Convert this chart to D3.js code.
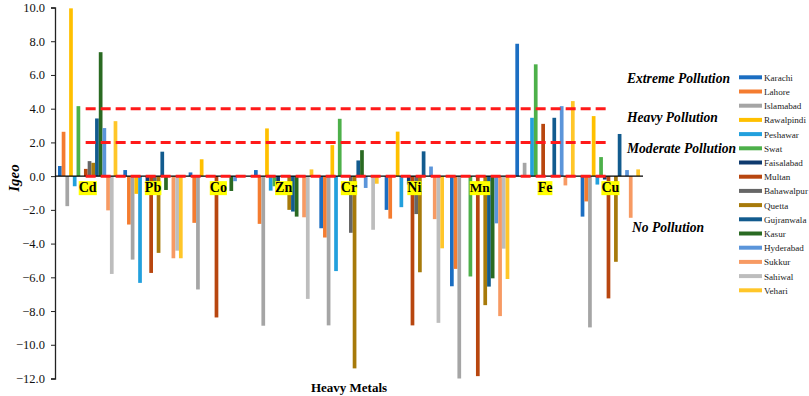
<!DOCTYPE html>
<html><head><meta charset="utf-8">
<script src="https://cdn.jsdelivr.net/npm/d3@7"></script>
<style>html,body{margin:0;padding:0;background:#fff;}svg{display:block;}
svg text{font-family:"Liberation Serif","Times New Roman","Liberation Sans",Arial,sans-serif;}</style>
</head><body>
<svg id="chart" width="809" height="396"></svg>
<script>
const metals = ["Cd","Pb","Co","Zn","Cr","Ni","Mn","Fe","Cu"];
const cities = ["Karachi","Lahore","Islamabad","Rawalpindi","Peshawar","Swat","Faisalabad","Multan","Bahawalpur","Quetta","Gujranwala","Kasur","Hyderabad","Sukkur","Sahiwal","Vehari"];
const colors = ["#1b6ec2","#f47c30","#a5a5a5","#ffc000","#22a0dd","#4db04a","#0e3a6e","#b8460f","#666666","#a77a0a","#125b8e","#2a6a22","#5b95da","#f79a63","#bdbdbd","#ffc629"];
// Igeo values per metal, in city order
const cd = [0.6, 2.63, -1.78, 9.95, -0.6, 4.15, 0, 0.43, 0.89, 0.79, 3.42, 7.35, 2.85, -2.03, -5.8, 3.26];
const pb = [0.36, -2.87, -4.95, -1.05, -6.33, 0, -0.4, -5.74, -0.4, -4.55, 1.45, -0.82, 0, -4.87, -4.42, -4.87];
const co = [0.22, -2.77, -6.72, 1.0, 0, 0, 0, -8.38, 0, 0, 0, -0.88, -0.3, 0, 0, 0];
const zn = [0.36, -2.83, -8.87, 2.83, -0.86, -0.6, -0.4, 0, 0, -2.0, -2.1, -2.4, 0, -2.44, -7.28, 0.4];
const cr = [-3.09, -3.64, -8.85, 1.84, -5.63, 3.4, 0, 0, -3.36, -11.4, 0.93, 1.54, -0.7, 0, -3.18, -0.45];
const ni = [-2.0, -2.52, 0, 2.64, -1.84, 0, -0.5, -8.85, -2.25, -5.7, 1.47, 0, 0.57, -2.55, -8.7, -4.28];
const mn = [-6.53, -5.5, -12.0, 0, 0, -5.95, 0, -11.86, 0, -7.65, -6.55, -6.06, -2.8, -8.3, -4.3, -6.1];
const fe = [7.85, 0, 0.79, 0, 3.46, 6.63, 0, 3.1, 0, 0, 3.46, 0, 4.15, -0.55, 0, 4.45];
const cu = [-2.4, -1.5, -8.97, 3.56, -0.5, 1.13, -0.2, -7.25, 0, -5.08, 2.5, 0, 0.36, -2.47, 0, 0.4];
const yTicks = [-12,-10,-8,-6,-4,-2,0,2,4,6,8,10];
const thresholds = [0, 2, 4];
const zoneLabels = [
  {text:"Extreme Pollution", v:5.5},
  {text:"Heavy Pollution", v:3.2},
  {text:"Moderate Pollution", v:1.4},
  {text:"No Pollution", v:-3.3}
];

(function(){
const metalValues = [cd,pb,co,zn,cr,ni,mn,fe,cu];
const table = [];
metals.forEach((m,i)=>cities.forEach((c,j)=>table.push({metal:m, city:c, value:metalValues[i][j], ci:j})));

const svg = d3.select("#chart");
const mLeft = 55, mRight = 643, mTop = 7.5, mBottom = 378.5;

const x0 = d3.scaleBand().domain(metals).range([mLeft, mRight]).padding(0);
const x1 = d3.scaleBand().domain(cities).range([3, x0.bandwidth()-3]).padding(0);
const y = d3.scaleLinear().domain([-12, 10]).range([mBottom, mTop]);
const color = d3.scaleOrdinal().domain(cities).range(colors);

function fit(sel, maxW){
  sel.each(function(){
    const n = this; let fs = parseFloat(d3.select(n).attr("font-size"));
    let w = n.getComputedTextLength();
    if (w > maxW) { d3.select(n).attr("font-size", (fs * maxW / w).toFixed(2)); }
  });
}

// bars
svg.append("g").selectAll("rect").data(table).join("rect")
  .attr("x", d => x0(d.metal) + x1(d.city))
  .attr("width", x1.bandwidth())
  .attr("y", d => y(Math.max(0, d.value)))
  .attr("height", d => Math.abs(y(d.value) - y(0)))
  .attr("fill", d => color(d.city));

// y axis
const yAxis = svg.append("g").attr("transform", `translate(${mLeft},0)`)
  .call(d3.axisLeft(y).tickValues(yTicks).tickFormat(d3.format(".1f")).tickSize(4).tickPadding(6));
yAxis.attr("font-family", null);
yAxis.select(".domain").attr("stroke", "#222").attr("stroke-width", 1.3);
yAxis.selectAll(".tick line").attr("stroke", "#222");
yAxis.selectAll("text").attr("font-size", 12.5).attr("fill", "#111");
fit(yAxis.selectAll("text").filter(d => d === 10), 23);

// zero axis line
svg.append("line").attr("x1", mLeft).attr("x2", mRight).attr("y1", y(0)).attr("y2", y(0))
  .attr("stroke", "#000").attr("stroke-width", 1.3);

// threshold dashed lines
const xFirst = x0(metals[0]) + x0.bandwidth()/2, xLast = x0(metals[metals.length-1]) + x0.bandwidth()/2;
svg.append("g").selectAll("line").data(thresholds).join("line")
  .attr("x1", xFirst - 2).attr("x2", xLast)
  .attr("y1", d => y(d)).attr("y2", d => y(d))
  .attr("stroke", "#ff1a1a").attr("stroke-width", 3).attr("stroke-dasharray", "10,5");

// category labels with yellow background
const catG = svg.append("g").selectAll("g").data(metals).join("g")
  .attr("transform", d => `translate(${x0(d) + x0.bandwidth()/2},${y(0) + 16})`);
catG.each(function(d){
  const g = d3.select(this);
  const t = g.append("text").text(d).attr("text-anchor", "middle")
    .attr("font-weight", "bold").attr("font-size", 14).attr("fill", "#000");
  fit(t, 20);
  const bb = t.node().getBBox();
  g.insert("rect", "text").attr("x", bb.x).attr("y", bb.y + 1).attr("width", bb.width).attr("height", bb.height - 1)
    .attr("fill", "#ffff00");
});

// zone annotations
const zt = svg.append("g").selectAll("text").data(zoneLabels).join("text")
  .attr("x", d => d.text === "No Pollution" ? 632 : 627)
  .attr("y", d => y(d.v))
  .attr("font-weight", "bold").attr("font-style", "italic").attr("font-size", 14)
  .attr("fill", "#000").text(d => d.text);
let maxZ = 0; zt.each(function(){ maxZ = Math.max(maxZ, this.getComputedTextLength()); });
if (maxZ > 109) zt.attr("font-size", (14 * 109 / maxZ).toFixed(2));

// axis titles
svg.append("text").attr("transform", `translate(19,178) rotate(-90)`).attr("text-anchor", "middle")
  .attr("font-weight", "bold").attr("font-style", "italic").attr("font-size", 15)
  .text("Igeo");
svg.append("text").attr("x", 349).attr("y", 392).attr("text-anchor", "middle")
  .attr("font-weight", "bold").attr("font-size", 13)
  .text("Heavy Metals");

// legend
const lg = svg.append("g").selectAll("g").data(cities).join("g")
  .attr("transform", (d,i) => `translate(739,${77.3 + i*14.2})`);
lg.append("line").attr("x1", 0).attr("x2", 23).attr("y1", 0).attr("y2", 0)
  .attr("stroke", d => color(d)).attr("stroke-width", 4);
const lt = lg.append("text").attr("x", 25).attr("y", 3.5).attr("font-size", 10)
  .attr("fill", "#222").text(d => d);
let maxL = 0; lt.each(function(){ maxL = Math.max(maxL, this.getComputedTextLength()); });
if (maxL > 44) lt.attr("font-size", (10 * 44 / maxL).toFixed(2));
})();
</script>
</body></html>
